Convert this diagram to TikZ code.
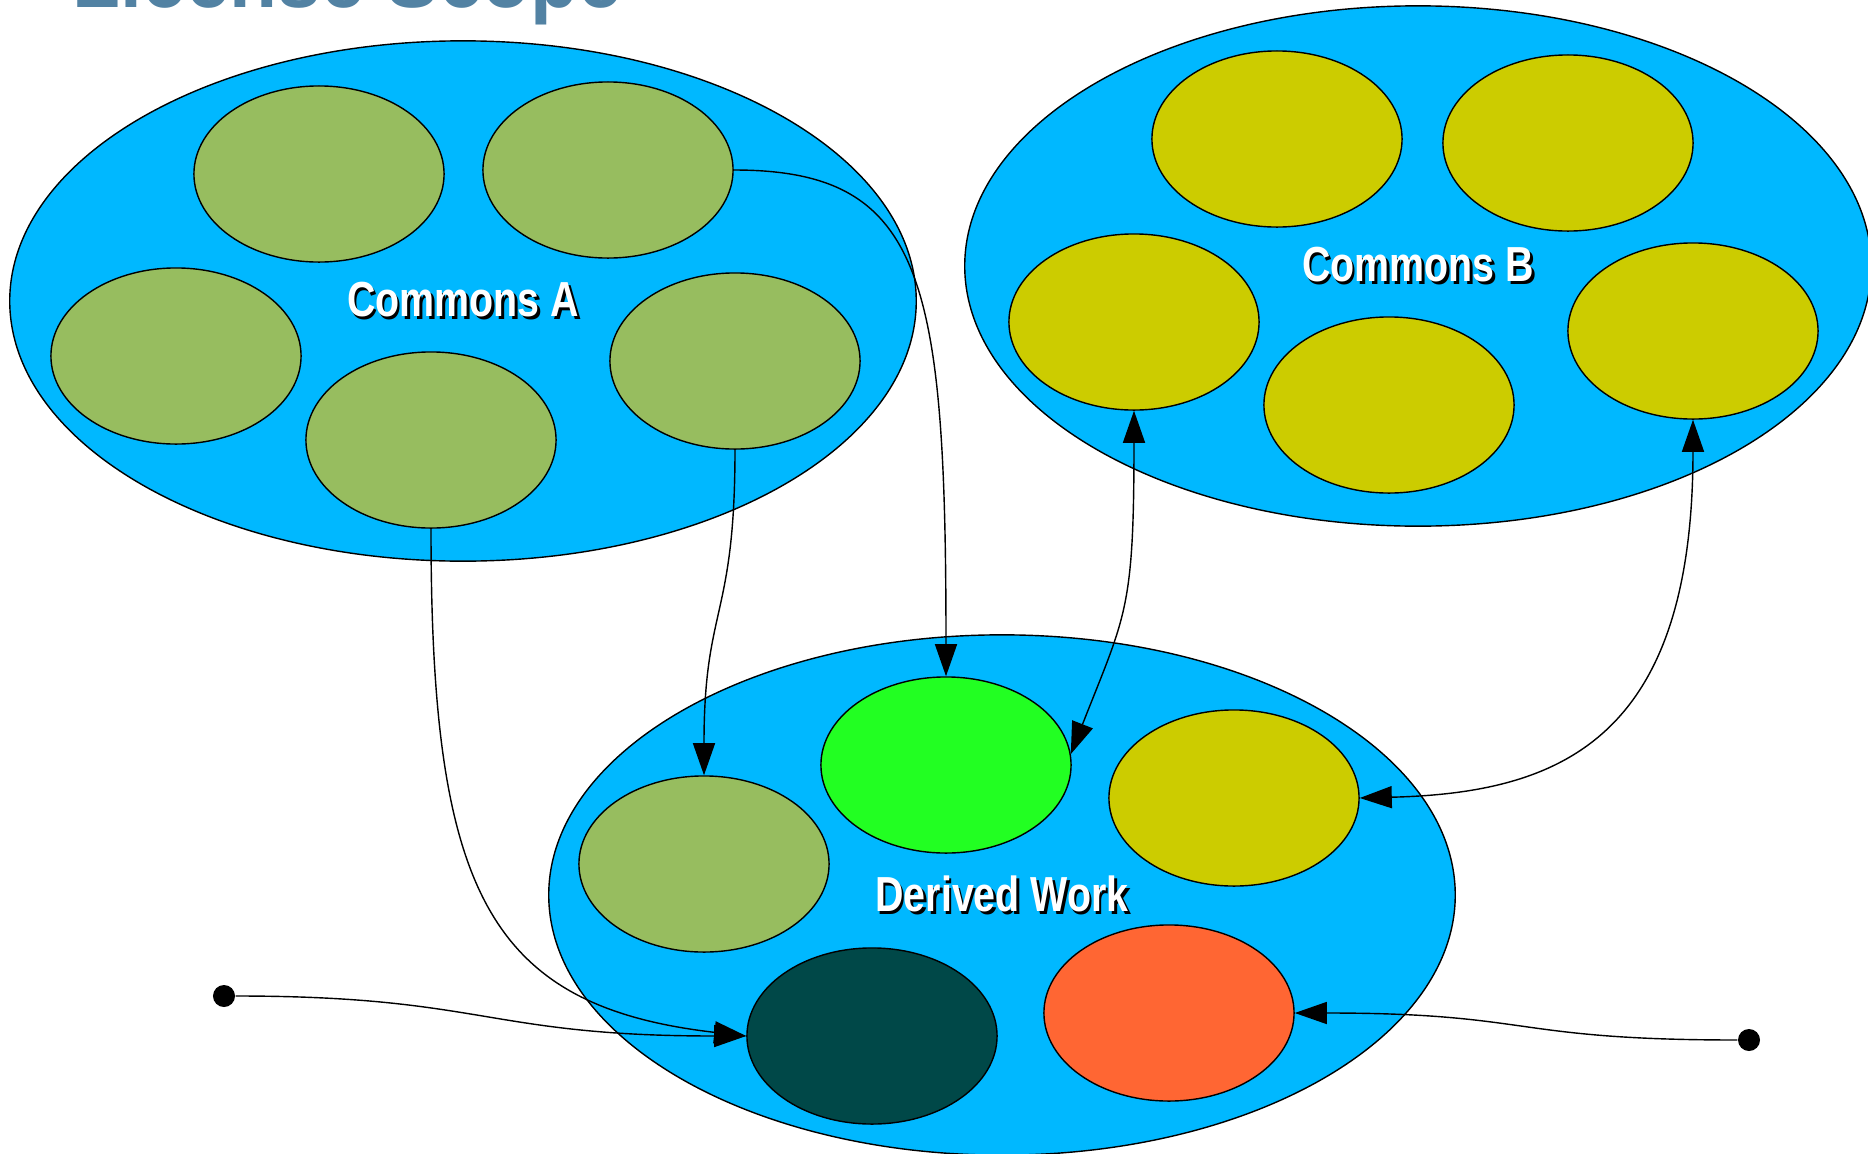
\documentclass[tikz,border=0pt]{standalone}
\usepackage{fontspec}
\setmainfont{Liberation Sans}
\usepackage{graphicx}
\usepackage{xcolor}
\usetikzlibrary{arrows.meta, positioning, shapes.geometric}
\definecolor{poolblue}{RGB}{0,184,255}
\definecolor{leafA}{RGB}{151,189,95}
\definecolor{leafB}{RGB}{204,204,0}
\definecolor{leafnew}{RGB}{34,255,34}
\definecolor{leafdark}{RGB}{0,72,72}
\definecolor{leaforange}{RGB}{255,102,51}
\definecolor{titleblue}{RGB}{82,130,163}
\newcommand{\shadowtext}[1]{\scalebox{0.8}[1]{\rlap{\kern0.9pt\raisebox{-0.9pt}{\color{black}#1}}\textcolor{white}{#1}}}
\tikzset{%
	pool/.style={
		ellipse,
		draw,
		fill=poolblue,
		minimum width=9.06cm,
		minimum height=5.2cm,
		inner sep=0pt,
		font=\bfseries\fontsize{14}{16}\selectfont
	},
	work/.style={
		ellipse,
		draw,
		minimum width=2.5cm,
		minimum height=1.76cm,
		inner sep=0pt
	},
	source/.style={
		circle,
		fill=black,
		minimum size=2.2mm,
		inner sep=0pt
	},
}

\begin{document}
\begin{tikzpicture}[
				x=0.01cm, y=-0.01cm,
				link/.style={-{Triangle[length=3.2mm, width=2.2mm]}},
				dual link/.style={{Triangle[length=3.2mm, width=2.2mm]}-{Triangle[length=3.2mm, width=2.2mm]}},
				title/.style={anchor=base west, inner sep=0pt, text=titleblue, font=\bfseries\fontsize{24}{28}\selectfont}
				]
				\useasboundingbox (0,0) rectangle (1868,1154);
				
				% Title, cut by the page edge
				\node[title] (T) at (72,7) {\scalebox{0.93}[1]{License Scope}};
				
				% The three pools
				\node[pool] (CA) at (463,301) {\shadowtext{Commons A}};
				\node[pool] (CB) at (1418,266) {\shadowtext{Commons B}};
				\node[pool] (DW) at (1002,895) {\shadowtext{Derived Work}};
				
				% Works in the pools
				\node[work, fill=leafA] (A1) at (319,174) {};
				\node[work, fill=leafA] (A2) at (608,170) {};
				\node[work, fill=leafA] (A3) at (176,356) {};
				\node[work, fill=leafA] (A4) at (735,361) {};
				\node[work, fill=leafA] (A5) at (431,440) {};
				
				\node[work, fill=leafB] (B1) at (1277,139) {};
				\node[work, fill=leafB] (B2) at (1568,143) {};
				\node[work, fill=leafB] (B3) at (1134,322) {};
				\node[work, fill=leafB] (B4) at (1693,331) {};
				\node[work, fill=leafB] (B5) at (1389,405) {};
				
				\node[work, fill=leafnew] (D1) at (946,765) {};
				\node[work, fill=leafB] (D2) at (1234,798) {};
				\node[work, fill=leafA] (D3) at (704,864) {};
				\node[work, fill=leafdark] (D4) at (872,1036) {};
				\node[work, fill=leaforange] (D5) at (1169,1013) {};
				
				\node[source] (SL) at (224,996) {};
				\node[source] (SR) at (1749,1040) {};
				
				% Links
				\draw[link] (A2.east) .. controls +(190,0) and +(0,-400) .. (D1.north);
				\draw[link] (A4.south) .. controls +(0,170) and +(0,-170) .. (D3.north);
				\draw[link] (A5.south) .. controls +(0,360) and +(-260,-30) .. (D4.west);
				\draw[link] (SL) .. controls +(260,0) and +(-260,0) .. (D4.west);
				\draw[link] (SR) .. controls +(-240,0) and +(240,0) .. (D5.east);
				\draw[dual link] (B3.south) .. controls +(0,200) and +(55,-140) .. (D1.5);
				\draw[dual link] (B4.south) .. controls +(0,320) and +(200,-5) .. (D2.east);
				
			\end{tikzpicture}
\end{document}
